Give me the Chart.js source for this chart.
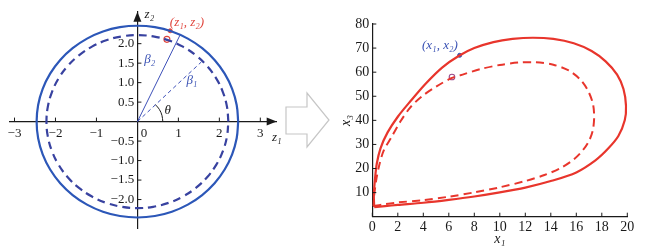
<!DOCTYPE html>
<html><head><meta charset="utf-8">
<script src="https://cdn.jsdelivr.net/npm/chart.js@4/dist/chart.umd.min.js"></script>
<style>
html,body{margin:0;padding:0;background:#fff;}
#wrap{position:relative;width:647px;height:250px;overflow:hidden;background:#fff;}
#c1{position:absolute;left:0;top:0;}
#c2{position:absolute;left:338px;top:0;}
#arr{position:absolute;left:0;top:0;}
</style></head><body>
<div id="wrap">
<canvas id="c1" width="286" height="250"></canvas>
<svg id="arr" width="647" height="250"><polygon points="286,107 307,107 307,93 329,120 307,147 307,134 286,134" fill="#fff" stroke="#c6c6c6" stroke-width="1.2"/></svg>
<canvas id="c2" width="309" height="250"></canvas>
</div>
<script>
// ---------- Left panel data (z1, z2) ----------
const outerZ1 = [2.46,2.423,2.312,2.13,1.884,1.581,1.23,0.841,0.427,0,-0.427,-0.841,-1.23,-1.581,-1.884,-2.13,-2.312,-2.423,-2.46,-2.423,-2.312,-2.13,-1.884,-1.581,-1.23,-0.841,-0.427,0,0.427,0.841,1.23,1.581,1.884,2.13,2.312,2.423,2.46];
const outerZ2 = [0,0.427,0.841,1.23,1.581,1.884,2.13,2.312,2.423,2.46,2.423,2.312,2.13,1.884,1.581,1.23,0.841,0.427,0,-0.427,-0.841,-1.23,-1.581,-1.884,-2.13,-2.312,-2.423,-2.46,-2.423,-2.312,-2.13,-1.884,-1.581,-1.23,-0.841,-0.427,0];
const innerZ1 = [2.22,2.186,2.086,1.923,1.701,1.427,1.11,0.759,0.385,0,-0.385,-0.759,-1.11,-1.427,-1.701,-1.923,-2.086,-2.186,-2.22,-2.186,-2.086,-1.923,-1.701,-1.427,-1.11,-0.759,-0.385,0,0.385,0.759,1.11,1.427,1.701,1.923,2.086,2.186,2.22];
const innerZ2 = [0,0.385,0.759,1.11,1.427,1.701,1.923,2.086,2.186,2.22,2.186,2.086,1.923,1.701,1.427,1.11,0.759,0.385,0,-0.385,-0.759,-1.11,-1.427,-1.701,-1.923,-2.086,-2.186,-2.22,-2.186,-2.086,-1.923,-1.701,-1.427,-1.11,-0.759,-0.385,0];
const beta2Z1 = [0, 1.04];
const beta2Z2 = [0, 2.22];
const beta1Z1 = [0, 1.56];
const beta1Z2 = [0, 1.53];
const thetaArcZ1 = [0.62, 0.599, 0.537, 0.438];
const thetaArcZ2 = [0, 0.16, 0.31, 0.438];
const pointZ1 = [0.80];
const pointZ2 = [2.33];
const markerZ1 = [0.72];
const markerZ2 = [2.11];
const leftXTicks = [-3, -2, -1, 0, 1, 2, 3];
const leftYTicks = [-2, -1.5, -1, -0.5, 0.5, 1, 1.5, 2];

// ---------- Right panel data (x1, x3) ----------
const solidX1 = [0.15,1,2,4,6,8,10,12,14,16,17.5,18.5,19.3,19.8,19.9,19.7,19.2,18.3,17.2,15.8,14.2,12.6,11,9.5,8,6.8,5.5,4.2,3.0,2.0,1.2,0.65,0.35,0.2,0.12,0.15];
const solidX3 = [4.0,4.4,4.9,5.8,7.0,8.4,10.1,12.1,14.8,18.4,23.4,28.3,33.5,40,46,53,59,64.5,68.8,72,73.8,74.3,73.8,72.5,70,66.8,62,55.3,48,41.5,35,28.5,22,15,9,4.0];
const dashX1 = [0.08,1,2,4,6,8,10,12,13.5,14.8,15.8,16.5,17.0,17.3,17.4,17.3,16.9,16.3,15.4,14.2,12.8,11.5,10,8.5,7.2,6.2,5.0,3.9,3.0,2.2,1.5,0.9,0.55,0.3,0.15,0.08];
const dashX3 = [4.4,5.2,5.9,6.9,8.3,10.1,12.2,14.8,17.3,20.3,23.8,27.5,31.5,36,41.5,47,52.5,57,60.7,63.1,64.1,64,63,61.3,59.2,57.5,54,50,45.5,39.5,33,27.5,21.5,15,9,4.4];
const bluePtX1 = [6.85];
const bluePtX3 = [67.0];
const ringPtX1 = [6.25];
const ringPtX3 = [58.0];
const rightXTicks = [0,2,4,6,8,10,12,14,16,18,20];
const rightYTicks = [10,20,30,40,50,60,70,80];

// annotation anchors (data units), kept apart from the series
const leftNotes = [
  {t:'β₂', x:0.30, y:1.58, c:'#3a52b4'},
  {t:'β₁', x:1.33, y:1.06, c:'#3a52b4'},
  {t:'θ', x:0.74, y:0.29, c:'#111'},
  {t:'(z₁, z₂)', x:1.21, y:2.55, c:'#e0453c'}
];
const rightNotes = [{t:'(x₁, x₂)', x:5.3, y:71.2, c:'#3a52b4'}];

const pts = (xs, ys) => xs.map((v, i) => ({x: v, y: ys[i]}));
const SERIF = '"Liberation Serif", "DejaVu Serif", serif';
Chart.defaults.font.family = SERIF;
Chart.defaults.color = '#1a1a1a';

function noteDraw(chart, notes) {
  const {ctx, scales: {x, y}} = chart;
  ctx.save();
  ctx.textAlign = 'center'; ctx.textBaseline = 'middle';
  notes.forEach(n => {
    ctx.fillStyle = n.c;
    ctx.font = 'italic 13px ' + SERIF;
    ctx.fillText(n.t, x.getPixelForValue(n.x), y.getPixelForValue(n.y));
  });
  ctx.restore();
}

const leftDecor = {
  id: 'leftDecor',
  afterDraw(chart) {
    const {ctx, chartArea: a, scales: {x, y}} = chart;
    const ox = x.getPixelForValue(0), oy = y.getPixelForValue(0);
    ctx.save();
    ctx.strokeStyle = '#1a1a1a'; ctx.fillStyle = '#1a1a1a'; ctx.lineWidth = 1;
    ctx.beginPath();
    x.ticks.forEach(t => { if (t.value === 0) return; const p = x.getPixelForValue(t.value); ctx.moveTo(p, oy); ctx.lineTo(p, oy - 4); });
    y.ticks.forEach(t => { const p = y.getPixelForValue(t.value); ctx.moveTo(ox, p); ctx.lineTo(ox + 4, p); });
    ctx.stroke();
    ctx.beginPath(); ctx.moveTo(a.right, oy); ctx.lineTo(a.right - 10, oy - 4); ctx.lineTo(a.right - 10, oy + 4); ctx.closePath(); ctx.fill();
    ctx.beginPath(); ctx.moveTo(ox, a.top); ctx.lineTo(ox - 4, a.top + 10); ctx.lineTo(ox + 4, a.top + 10); ctx.closePath(); ctx.fill();
    ctx.font = 'italic 13px ' + SERIF; ctx.textBaseline = 'middle'; ctx.textAlign = 'center';
    ctx.fillText('z₂', ox + 12, a.top + 3);
    ctx.fillText('z₁', a.right, oy + 16);
    ctx.restore();
    noteDraw(chart, leftNotes);
  }
};

const rightDecor = {
  id: 'rightDecor',
  afterDraw(chart) {
    const {ctx, chartArea: a, scales: {x, y}} = chart;
    ctx.save();
    ctx.strokeStyle = '#1a1a1a'; ctx.lineWidth = 1;
    ctx.beginPath();
    x.ticks.forEach(t => { const p = x.getPixelForValue(t.value); ctx.moveTo(p, a.bottom); ctx.lineTo(p, a.bottom - 4); });
    y.ticks.forEach(t => { const p = y.getPixelForValue(t.value); ctx.moveTo(a.left, p); ctx.lineTo(a.left + 4, p); });
    ctx.stroke();
    ctx.restore();
    noteDraw(chart, rightNotes);
  }
};

const lineDs = (data, color, width, dash, tension) => ({
  data, showLine: true, borderColor: color, borderWidth: width, borderDash: dash,
  pointRadius: 0, pointHoverRadius: 0, fill: false, tension: tension
});

new Chart(document.getElementById('c1'), {
  type: 'scatter',
  data: { datasets: [
    lineDs(pts(outerZ1, outerZ2), '#2c57b8', 2.2, [], 0.4),
    lineDs(pts(innerZ1, innerZ2), '#3842a0', 2.2, [8, 5], 0.4),
    lineDs(pts(beta2Z1, beta2Z2), '#3d50b8', 1, [], 0),
    lineDs(pts(beta1Z1, beta1Z2), '#3d50b8', 1, [4, 3], 0),
    lineDs(pts(thetaArcZ1, thetaArcZ2), '#1a1a1a', 1, [], 0.4),
    {data: pts(pointZ1, pointZ2), pointRadius: 2, pointBackgroundColor: '#e0453c', pointBorderColor: '#e0453c', showLine: false},
    {data: pts(markerZ1, markerZ2), pointRadius: 3, pointBackgroundColor: 'rgba(255,255,255,0)', pointBorderColor: '#e0453c', pointBorderWidth: 1.1, showLine: false}
  ]},
  options: {
    responsive: false, animation: false, devicePixelRatio: 1,
    layout: { padding: {left: 10, right: 9.3, top: 11.7, bottom: 22} },
    plugins: { legend: {display: false}, tooltip: {enabled: false} },
    scales: {
      x: {
        type: 'linear', min: -3.11, max: 3.4, position: {y: 0},
        afterBuildTicks: s => { s.ticks = leftXTicks.map(v => ({value: v})); },
        grid: {display: true, drawOnChartArea: false, drawTicks: false},
        border: {display: true, color: '#1a1a1a', width: 1.2},
        ticks: {padding: 4, font: {size: 13}, color: '#1a1a1a', maxRotation: 0,
          callback: v => v === 0 ? '\u20030' : (v < 0 ? '\u2212' + Math.abs(v) : String(v))}
      },
      y: {
        type: 'linear', min: -2.73, max: 2.82, position: {x: 0},
        afterBuildTicks: s => { s.ticks = leftYTicks.map(v => ({value: v})); },
        grid: {display: true, drawOnChartArea: false, drawTicks: false},
        border: {display: true, color: '#1a1a1a', width: 1.2},
        ticks: {padding: 0, font: {size: 13}, color: '#1a1a1a',
          callback: v => (v < 0 ? '\u2212' : '') + Math.abs(v).toFixed(1) + ' '}
      }
    }
  },
  plugins: [leftDecor]
});

new Chart(document.getElementById('c2'), {
  type: 'scatter',
  data: { datasets: [
    lineDs(pts(solidX1, solidX3), '#e8352c', 2.2, [], 0.3),
    lineDs(pts(dashX1, dashX3), '#e8352c', 2, [8, 5], 0.3),
    {data: pts(bluePtX1, bluePtX3), pointRadius: 2, pointBackgroundColor: '#3550b0', pointBorderColor: '#3550b0', showLine: false},
    {data: pts(ringPtX1, ringPtX3), pointRadius: 2.8, pointBackgroundColor: 'rgba(255,255,255,0.6)', pointBorderColor: '#9a4a8a', pointBorderWidth: 1.1, showLine: false}
  ]},
  options: {
    responsive: false, animation: false, devicePixelRatio: 1,
    layout: { padding: {left: 0, right: 19.7, top: 24, bottom: 0} },
    plugins: { legend: {display: false}, tooltip: {enabled: false} },
    scales: {
      x: {
        type: 'linear', min: 0, max: 20, position: 'bottom',
        afterBuildTicks: s => { s.ticks = rightXTicks.map(v => ({value: v})); },
        afterFit: s => { s.height = 33.3; },
        grid: {display: true, drawOnChartArea: false, drawTicks: false},
        border: {display: true, color: '#1a1a1a', width: 1.2},
        ticks: {padding: 2, font: {size: 14}, color: '#1a1a1a', maxRotation: 0, autoSkip: false},
        title: {display: true, text: 'x₁', font: {size: 14, style: 'italic'}, color: '#1a1a1a', padding: {top: 0, bottom: 2.6}}
      },
      y: {
        type: 'linear', min: 0, max: 80, position: 'left',
        afterBuildTicks: s => { s.ticks = rightYTicks.map(v => ({value: v})); },
        afterFit: s => { s.width = 34.3; },
        grid: {display: true, drawOnChartArea: false, drawTicks: false},
        border: {display: true, color: '#1a1a1a', width: 1.2},
        ticks: {padding: 3, font: {size: 14}, color: '#1a1a1a', autoSkip: false},
        title: {display: true, text: 'x₃', font: {size: 14, style: 'italic', lineHeight: 1}, color: '#1a1a1a', padding: {top: 1, bottom: 0}}
      }
    }
  },
  plugins: [rightDecor]
});
</script>
</body></html>
